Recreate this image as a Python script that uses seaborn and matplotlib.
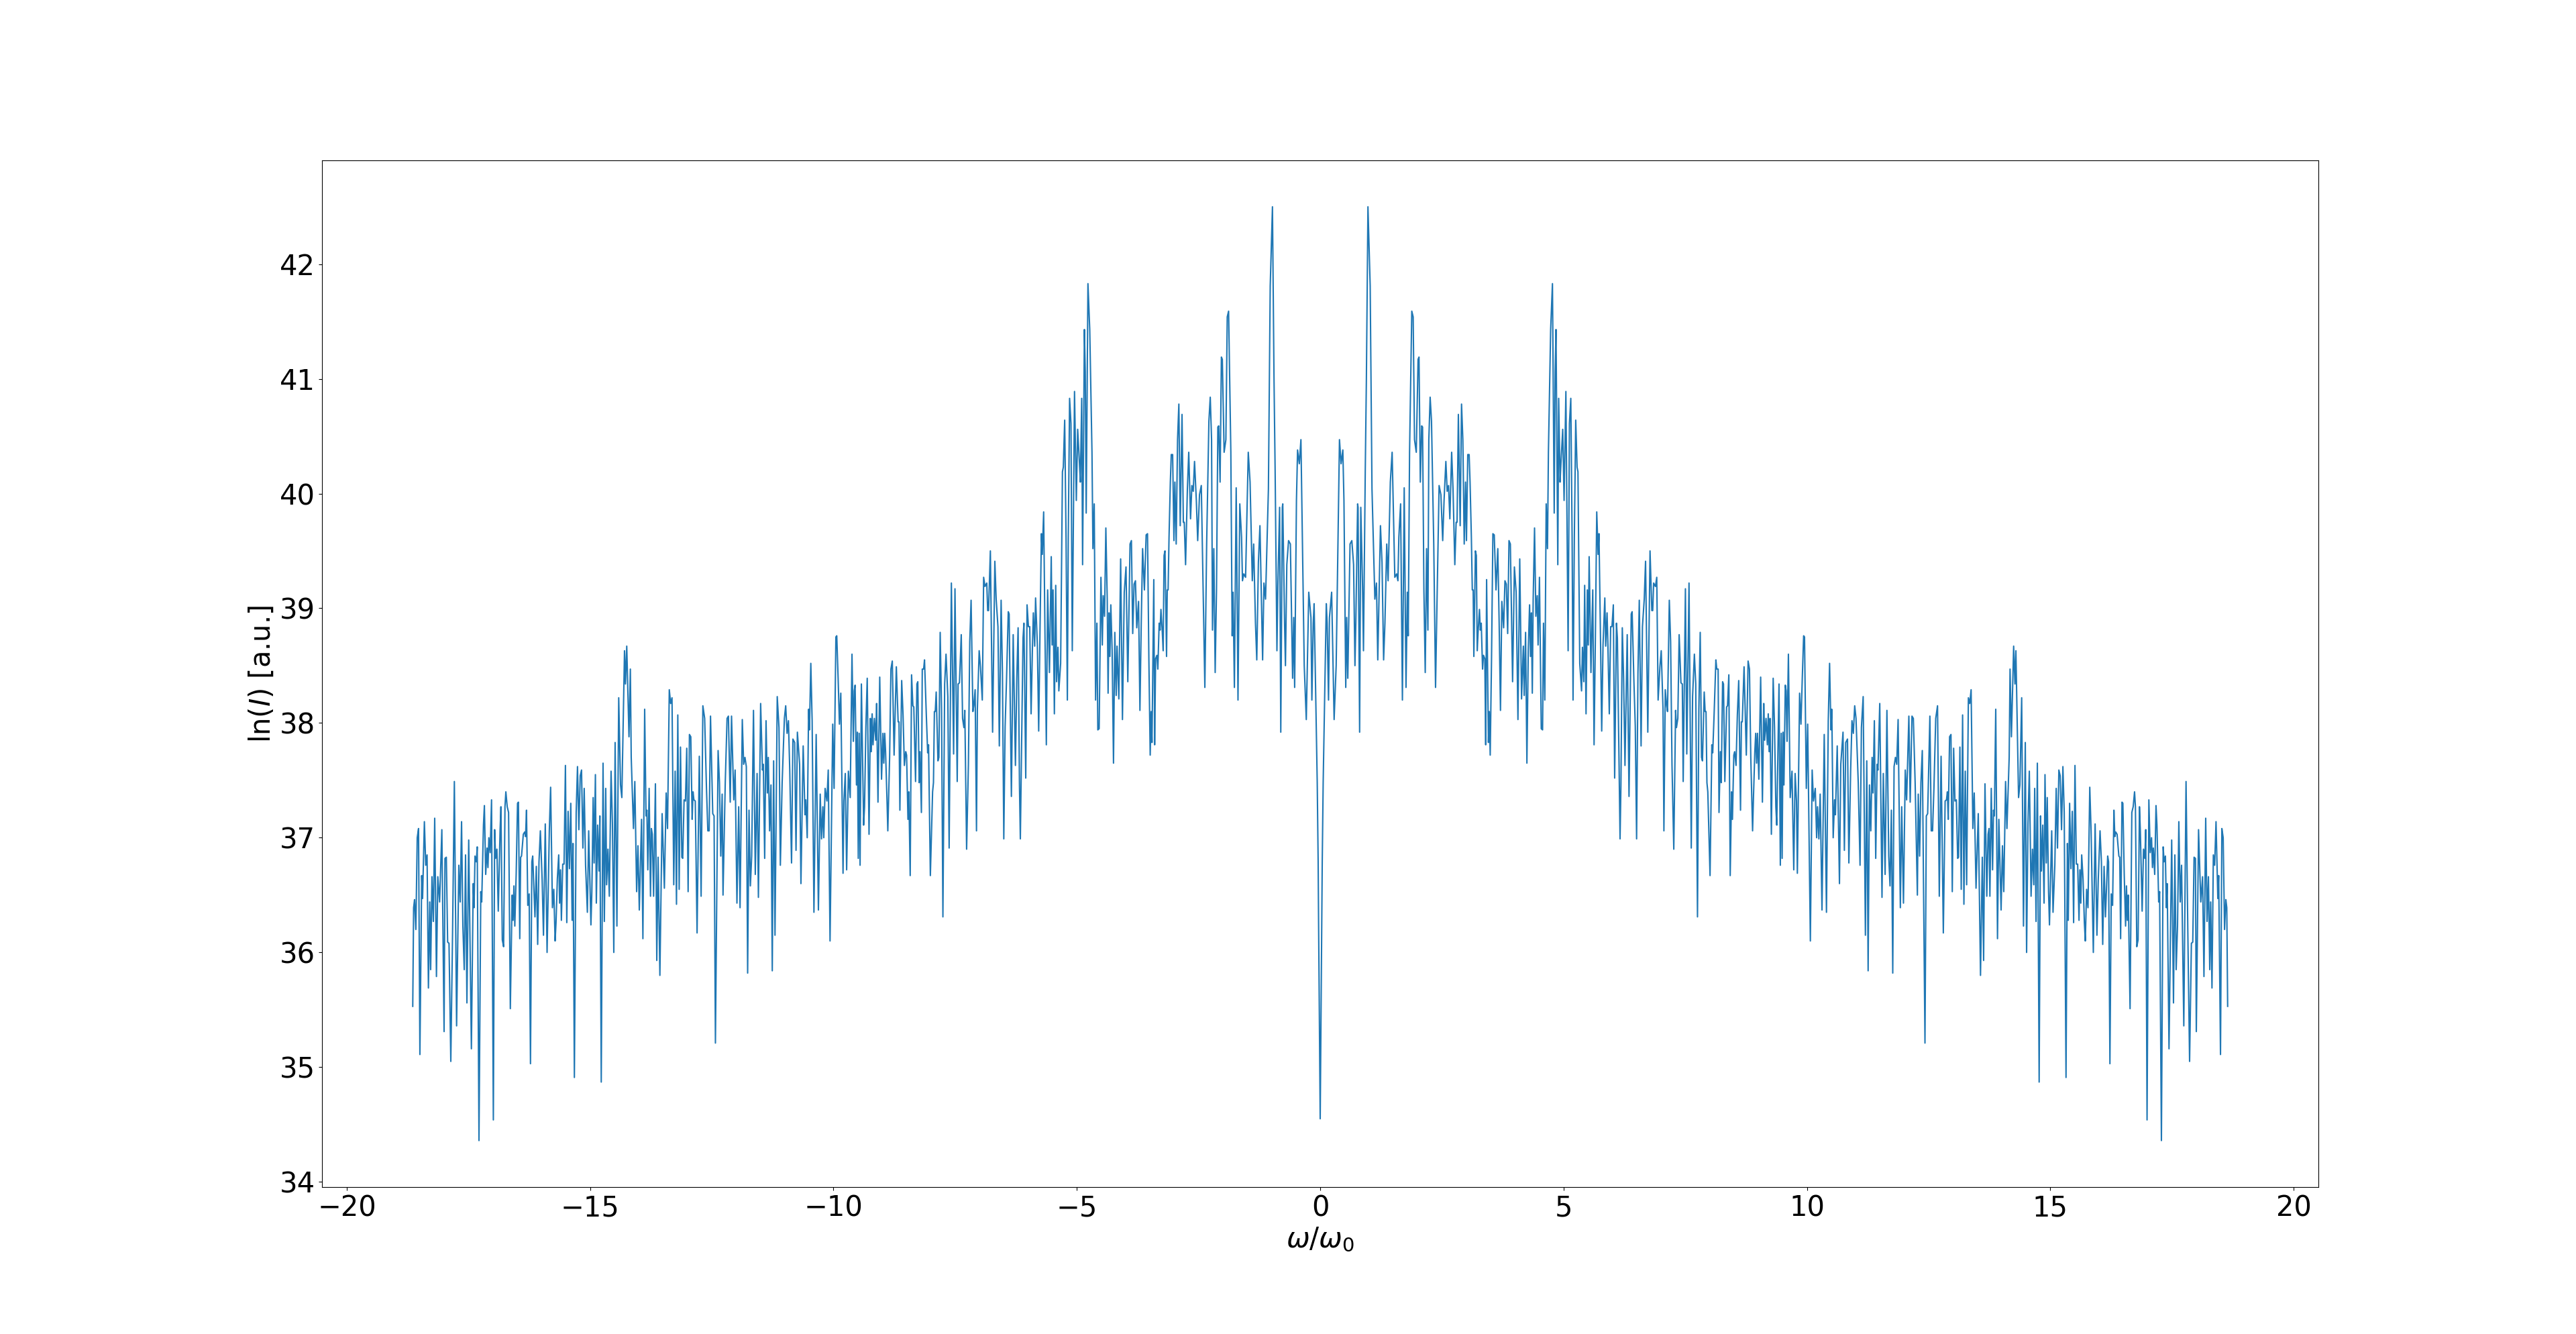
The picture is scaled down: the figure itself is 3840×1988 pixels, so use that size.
import matplotlib
matplotlib.use("Agg")
import matplotlib.pyplot as plt
import numpy as np
import pandas as pd
import seaborn as sns

# Positive-frequency half of the (symmetric) spectrum, omega/omega_0 >= 0
omega_pos = [
    0.000, 0.033, 0.042, 0.061, 0.125, 0.143, 0.171, 0.190, 0.235, 0.286,
    0.328, 0.396, 0.429, 0.465, 0.488, 0.525, 0.544, 0.567, 0.613, 0.650,
    0.686, 0.714, 0.732, 0.769, 0.778, 0.810, 0.834, 0.870, 0.889, 0.926,
    0.949, 0.981, 1.027, 1.064, 1.123, 1.156, 1.183, 1.238, 1.270, 1.303,
    1.330, 1.367, 1.395, 1.441, 1.478, 1.533, 1.570, 1.597, 1.616, 1.652,
    1.689, 1.726, 1.763, 1.790, 1.809, 1.836, 1.882, 1.910, 1.938, 1.974,
    2.011, 2.030, 2.057, 2.085, 2.103, 2.131, 2.158, 2.186, 2.213, 2.232,
    2.259, 2.287, 2.333, 2.370, 2.397, 2.443, 2.480, 2.517, 2.545, 2.582,
    2.609, 2.637, 2.664, 2.701, 2.729, 2.766, 2.793, 2.812, 2.839, 2.876,
    2.904, 2.931, 2.959, 2.986, 3.005, 3.032,
    3.060, 3.079, 3.106, 3.125, 3.143, 3.157, 3.189, 3.208, 3.226, 3.244,
    3.272, 3.290, 3.309, 3.336, 3.355, 3.382, 3.401, 3.419, 3.456, 3.474,
    3.493, 3.520, 3.548, 3.576, 3.612, 3.649, 3.677, 3.704, 3.732, 3.769,
    3.796, 3.824, 3.852, 3.879, 3.907, 3.953, 3.990, 4.026, 4.063, 4.100,
    4.137, 4.174, 4.192, 4.220, 4.247, 4.275, 4.302, 4.321, 4.339, 4.358,
    4.376, 4.404, 4.431, 4.459, 4.477, 4.505, 4.542, 4.569, 4.588, 4.615,
    4.643, 4.670, 4.689, 4.735, 4.772, 4.808, 4.827, 4.845, 4.882, 4.900,
    4.928, 4.946, 4.983, 5.011, 5.048, 5.094, 5.121, 5.149, 5.176, 5.195,
    5.222, 5.250, 5.278, 5.296, 5.333, 5.370, 5.388, 5.416, 5.434, 5.462,
    5.489, 5.508, 5.526, 5.563, 5.600, 5.627, 5.655, 5.682, 5.710, 5.728,
    5.756, 5.784, 5.811, 5.848, 5.866, 5.894, 5.912, 5.940, 5.968, 5.995,
    6.023, 6.050, 6.087, 6.106, 6.161, 6.179, 6.207,
    6.234, 6.262, 6.308, 6.345, 6.391, 6.409, 6.446, 6.474, 6.501, 6.529,
    6.556, 6.593, 6.621, 6.658, 6.685, 6.731, 6.777, 6.814, 6.832, 6.851,
    6.888, 6.915, 6.943, 6.980, 7.007, 7.044, 7.062, 7.090, 7.118, 7.136,
    7.173, 7.200, 7.228, 7.265, 7.302, 7.320, 7.348, 7.375, 7.412, 7.440,
    7.458, 7.504, 7.532, 7.578, 7.624, 7.651, 7.688, 7.716, 7.752, 7.780,
    7.808, 7.835, 7.854, 7.890, 7.909, 7.927, 7.946, 7.964, 8.010, 8.047,
    8.065, 8.093, 8.130, 8.148, 8.176, 8.194, 8.222, 8.240, 8.268, 8.286,
    8.314, 8.350, 8.369, 8.396, 8.424, 8.452, 8.470, 8.498, 8.516, 8.544,
    8.571, 8.599, 8.636, 8.654, 8.672, 8.709, 8.755, 8.792, 8.820, 8.847,
    8.884, 8.902, 8.930, 8.948, 8.967, 8.985, 9.013, 9.050, 9.086, 9.114,
    9.132, 9.160, 9.188, 9.206, 9.224, 9.243, 9.270, 9.307, 9.335, 9.362,
    9.381,
    9.427, 9.454, 9.473, 9.491, 9.510, 9.528, 9.556, 9.574, 9.592, 9.620,
    9.657, 9.694, 9.730, 9.758, 9.786, 9.804, 9.850, 9.878, 9.905, 9.933,
    9.951, 9.988, 10.016, 10.071, 10.108, 10.135, 10.172, 10.200, 10.218, 10.246,
    10.273, 10.310, 10.356, 10.402, 10.439, 10.466, 10.494, 10.512, 10.540, 10.568,
    10.586, 10.623, 10.669, 10.696, 10.742, 10.770, 10.798, 10.834, 10.862, 10.899,
    10.926, 10.954, 10.982, 11.009, 11.055, 11.092, 11.120, 11.156, 11.202, 11.230,
    11.258, 11.285, 11.313, 11.340, 11.359, 11.386, 11.414, 11.442, 11.460, 11.497,
    11.543, 11.570, 11.607, 11.644, 11.681, 11.708, 11.736, 11.764, 11.791, 11.819,
    11.846, 11.874, 11.920, 11.948, 11.984, 12.021, 12.049, 12.095, 12.122, 12.159,
    12.187, 12.224, 12.270, 12.288, 12.316, 12.343, 12.371, 12.426, 12.454, 12.481,
    12.527, 12.555,
    12.582, 12.610, 12.647, 12.684, 12.720, 12.757, 12.803, 12.840, 12.868, 12.886,
    12.904, 12.932, 12.960, 12.987, 13.015, 13.042, 13.070, 13.098, 13.116, 13.144,
    13.171, 13.199, 13.226, 13.254, 13.282, 13.318, 13.346, 13.374, 13.410, 13.438,
    13.475, 13.521, 13.567, 13.604, 13.631, 13.659, 13.696, 13.723, 13.742, 13.760,
    13.788, 13.815, 13.834, 13.852, 13.880, 13.916, 13.944, 13.990, 14.018, 14.045,
    14.082, 14.110, 14.156, 14.174, 14.202, 14.248, 14.275, 14.294, 14.349, 14.376,
    14.413, 14.450, 14.487, 14.514, 14.542, 14.570, 14.606, 14.634, 14.662, 14.680,
    14.708, 14.735, 14.772, 14.800, 14.818, 14.846, 14.873, 14.892, 14.919, 14.938,
    14.965, 14.984, 15.030, 15.057, 15.094, 15.122, 15.149, 15.177, 15.204, 15.232,
    15.260, 15.287, 15.324, 15.352, 15.370, 15.398, 15.425, 15.453, 15.480, 15.508,
    15.536, 15.563, 15.591, 15.609, 15.628, 15.646, 15.674, 15.701, 15.720,
    15.747, 15.775, 15.812, 15.839, 15.885, 15.922, 15.959, 15.986, 16.023, 16.051,
    16.078, 16.106, 16.134, 16.180, 16.198, 16.226, 16.253, 16.281, 16.308, 16.327,
    16.345, 16.373, 16.410, 16.428, 16.446, 16.474, 16.492, 16.520, 16.548, 16.566,
    16.584, 16.603, 16.640, 16.676, 16.704, 16.732, 16.750, 16.778, 16.805, 16.833,
    16.851, 16.888, 16.916, 16.943, 16.962, 16.989, 17.026, 17.054, 17.081, 17.100,
    17.118, 17.146, 17.173, 17.192, 17.228, 17.247, 17.284, 17.320, 17.339, 17.366,
    17.385, 17.403, 17.440, 17.495, 17.532, 17.560, 17.587, 17.615, 17.642, 17.670,
    17.698, 17.744, 17.790, 17.826, 17.863, 17.900, 17.928, 17.955, 17.983, 18.001,
    18.047, 18.093, 18.130, 18.158, 18.194, 18.222, 18.250, 18.277, 18.296, 18.323,
    18.351, 18.378, 18.406, 18.443, 18.461, 18.498, 18.526, 18.553, 18.581, 18.608,
    18.627, 18.645,
]

lnI_pos = [
    34.55, 36.26, 36.79, 37.48, 39.04, 38.87, 38.20, 38.92, 39.14, 38.03,
    38.50, 40.47, 40.26, 40.38, 39.94, 38.31, 38.92, 38.39, 39.56, 39.59,
    39.38, 38.50, 38.87, 39.91, 39.88, 37.92, 39.88, 39.19, 38.63, 40.20,
    41.00, 42.50, 41.81, 40.04, 39.08, 39.22, 38.55, 39.72, 39.40, 38.55,
    38.87, 39.56, 39.24, 40.10, 40.36, 39.27, 39.30, 39.24, 39.62, 39.91,
    38.20, 40.05, 38.31, 39.14, 38.76, 40.36, 41.59, 41.54, 40.47, 40.36,
    41.17, 41.19, 40.10, 40.59, 40.58, 39.15, 38.44, 39.52, 38.81, 40.47,
    40.84, 40.63, 39.56, 38.31, 38.98, 40.07, 39.99, 39.59, 39.94, 40.28,
    40.02, 40.07, 39.78, 40.36, 40.04, 39.38, 39.75, 39.75, 40.69, 39.72,
    40.78, 40.47, 39.56, 40.10, 39.59, 40.34,
    40.34, 40.10, 39.62, 39.16, 39.16, 38.58, 39.50, 39.46, 38.63, 38.79,
    38.99, 38.81, 38.87, 38.47, 38.59, 38.56, 37.81, 39.25, 37.83, 38.10,
    37.72, 38.55, 39.65, 39.64, 39.16, 39.52, 38.87, 38.11, 39.06, 38.83,
    39.24, 39.21, 38.78, 39.59, 39.56, 38.36, 39.36, 39.14, 38.03, 39.43,
    38.21, 38.67, 38.24, 38.79, 37.65, 38.63, 39.03, 38.58, 38.96, 38.26,
    39.08, 39.70, 38.93, 39.11, 38.68, 39.27, 37.95, 37.94, 38.87, 38.20,
    39.91, 39.52, 40.36, 41.43, 41.83, 39.83, 41.06, 41.43, 39.38, 40.83,
    40.10, 40.26, 40.56, 39.94, 40.89, 38.63, 40.61, 40.83, 39.62, 38.20,
    39.62, 40.64, 40.23, 40.19, 38.52, 38.28, 38.66, 38.36, 39.20, 38.08,
    39.16, 38.68, 39.45, 38.44, 39.16, 37.81, 38.79, 39.84, 39.47, 39.65,
    38.84, 37.93, 38.68, 39.09, 38.67, 38.96, 38.67, 38.08, 38.84, 38.84,
    39.03, 37.52, 38.87, 38.74, 36.99, 37.46, 38.83,
    38.39, 37.63, 38.77, 37.36, 38.95, 38.97, 38.36, 37.97, 36.99, 38.44,
    39.07, 37.80, 38.84, 39.08, 39.41, 37.92, 39.50, 38.98, 38.98, 39.22,
    39.19, 39.27, 38.20, 38.49, 38.63, 38.12, 37.06, 38.29, 38.15, 38.10,
    39.07, 38.71, 37.64, 36.90, 38.11, 37.96, 38.04, 38.77, 38.35, 38.34,
    37.49, 39.17, 37.73, 39.22, 36.91, 38.23, 38.60, 38.34, 36.31, 38.12,
    38.79, 37.70, 37.67, 38.27, 38.10, 38.10, 37.48, 37.40, 36.67, 37.81,
    37.74, 38.07, 38.55, 38.47, 38.47, 37.22, 37.75, 37.48, 38.36, 38.34,
    37.49, 38.14, 38.15, 38.42, 36.67, 37.40, 37.16, 37.72, 37.75, 37.63,
    38.07, 38.37, 37.24, 38.01, 38.01, 38.49, 37.72, 38.54, 38.47, 37.70,
    37.06, 37.35, 37.75, 37.91, 37.65, 37.91, 37.51, 38.40, 37.31, 38.17,
    37.85, 38.04, 37.81, 38.08, 37.75, 38.04, 37.03, 38.39, 37.96, 37.27,
    37.11,
    38.34, 36.76, 37.91, 36.82, 37.92, 37.46, 38.33, 38.28, 37.84, 38.60,
    37.35, 37.58, 36.72, 37.56, 37.32, 36.69, 38.26, 37.99, 38.39, 38.76,
    38.75, 37.43, 37.99, 36.10, 37.59, 37.32, 37.43, 37.00, 37.27, 36.99,
    37.38, 36.37, 37.90, 36.35, 38.02, 38.52, 37.94, 38.12, 37.00, 37.33,
    37.20, 37.80, 36.60, 37.64, 37.92, 36.89, 37.83, 37.86, 36.78, 37.59,
    38.02, 37.91, 38.15, 38.04, 37.48, 36.76, 37.96, 38.23, 36.15, 37.67,
    35.84, 37.46, 37.06, 37.70, 37.39, 38.02, 36.82, 37.64, 37.59, 38.17,
    36.48, 37.56, 36.68, 38.11, 36.84, 36.58, 37.24, 35.82, 37.62, 37.70,
    37.64, 38.03, 36.39, 37.27, 36.43, 37.59, 37.33, 38.06, 37.31, 38.06,
    38.04, 37.48, 36.50, 37.38, 36.84, 37.48, 37.76, 35.21, 37.19, 37.21,
    38.06, 37.06,
    37.06, 37.43, 38.04, 38.15, 36.49, 37.71, 36.17, 37.32, 37.33, 37.40,
    37.16, 37.88, 37.90, 36.53, 37.78, 37.32, 37.33, 36.82, 36.83, 37.79,
    36.55, 38.07, 36.42, 37.58, 36.59, 38.22, 38.17, 38.29, 37.08, 37.39,
    36.56, 37.21, 35.80, 36.83, 35.93, 37.47, 36.49, 37.03, 37.08, 36.49,
    37.43, 36.72, 37.24, 37.19, 38.12, 36.12, 37.16, 36.37, 36.93, 36.53,
    37.49, 37.08, 37.70, 38.47, 37.88, 38.67, 38.34, 38.63, 37.35, 37.46,
    38.22, 36.23, 37.83, 36.00, 37.12, 37.58, 36.49, 36.90, 36.59, 37.43,
    36.27, 37.65, 34.87, 37.19, 36.71, 37.11, 36.43, 37.55, 36.78, 37.35,
    36.53, 36.24, 37.06, 36.35, 36.76, 37.43, 36.91, 37.59, 37.54, 37.07,
    37.62, 37.22, 34.91, 36.95, 36.28, 37.30, 36.73, 37.23, 36.26, 37.63,
    36.77, 36.77, 36.28, 36.72, 36.43, 36.85, 36.64, 36.26, 36.10,
    36.55, 36.39, 37.44, 37.06, 36.00, 37.12, 36.15, 36.63, 37.06, 36.79,
    36.07, 36.75, 36.31, 36.84, 36.79, 35.03, 36.51, 36.41, 37.24, 37.01,
    37.05, 37.03, 36.84, 36.83, 36.12, 37.31, 37.30, 36.68, 36.23, 36.58,
    36.28, 36.50, 35.51, 37.22, 37.27, 37.40, 37.27, 36.05, 36.11, 37.27,
    37.06, 36.36, 36.90, 36.82, 37.07, 34.54, 37.33, 36.87, 37.00, 36.74,
    36.91, 36.68, 37.28, 37.11, 36.44, 36.53, 34.36, 36.92, 36.79, 36.84,
    36.39, 36.60, 35.16, 36.98, 35.56, 36.85, 35.85, 36.23, 37.14, 36.44,
    36.76, 35.36, 37.49, 36.20, 35.05, 36.08, 36.09, 36.83, 36.82, 35.31,
    37.07, 36.44, 36.66, 35.79, 37.17, 36.27, 36.66, 35.85, 36.44, 35.69,
    36.85, 36.76, 37.14, 36.47, 36.67, 35.11, 37.08, 37.00, 36.20, 36.46,
    36.39, 35.53,
]

x_label = r"$\omega/\omega_0$"
y_label = r"ln($I$) [a.u.]"

# The spectrum is symmetric about omega = 0
omega = [-w for w in reversed(omega_pos)] + omega_pos[1:]
lnI = list(reversed(lnI_pos)) + lnI_pos[1:]
df = pd.DataFrame({"omega": omega, "lnI": lnI})

fig, ax = plt.subplots(figsize=(38.4, 19.88), dpi=100)
sns.lineplot(data=df, x="omega", y="lnI", ax=ax, estimator=None, sort=False,
             color="#1f77b4", linewidth=1.5)
ax.set_xlabel(x_label, fontsize=30)
ax.set_ylabel(y_label, fontsize=30)
ax.tick_params(labelsize=30)
fig.savefig("out.png", dpi=100)
